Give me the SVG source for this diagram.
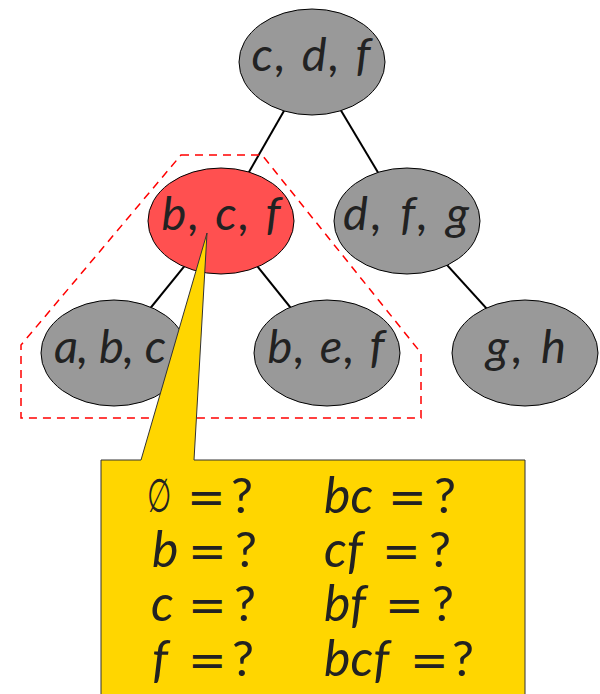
<svg xmlns="http://www.w3.org/2000/svg" width="600" height="694" viewBox="0 0 600 694">
<style>
.node{fill:#999999;stroke:#000;stroke-width:1}
.hl{fill:#ff5050}
.lbl{font-family:Lato,"Open Sans",sans-serif;font-style:italic;font-size:47px;fill:#222;text-anchor:middle}
.edge{stroke:#000;stroke-width:2;fill:none}
.row{font-family:Lato,"Open Sans",sans-serif;font-style:italic;font-size:50px;fill:#222}
.op{font-family:"DejaVu Sans",sans-serif;font-style:normal;font-size:46px}
.q{font-family:Lato,"Open Sans",sans-serif;font-style:normal;font-size:49px}
.es{font-family:"DejaVu Sans",sans-serif;font-style:normal;font-size:46px;fill:#222}
</style>
<rect width="600" height="694" fill="#fff"/>
<g id="connectors">
<line class="edge" x1="312" y1="62" x2="221" y2="221"/>
<line class="edge" x1="312" y1="62" x2="407" y2="221"/>
<line class="edge" x1="221" y1="221" x2="114" y2="353"/>
<line class="edge" x1="221" y1="221" x2="327" y2="353"/>
<line class="edge" x1="407" y1="221" x2="527" y2="353"/>
</g>
<g id="n-cdf"><ellipse class="node" cx="312" cy="62" rx="73" ry="53"/><text class="lbl" x="311" y="71" textLength="119" lengthAdjust="spacing">c, d, f</text></g>
<g id="n-bcf"><ellipse class="node hl" cx="221" cy="221" rx="73" ry="53"/><text class="lbl" x="221" y="230" textLength="119" lengthAdjust="spacing">b, c, f</text></g>
<g id="n-dfg"><ellipse class="node" cx="407" cy="221" rx="73" ry="53"/><text class="lbl" x="406" y="230" textLength="126" lengthAdjust="spacing">d, f, g</text></g>
<g id="n-abc"><ellipse class="node" cx="114" cy="353" rx="73" ry="53"/><text class="lbl" x="110" y="363" textLength="112" lengthAdjust="spacing">a, b, c</text></g>
<g id="n-bef"><ellipse class="node" cx="327" cy="353" rx="73" ry="53"/><text class="lbl" x="326" y="363" textLength="117" lengthAdjust="spacing">b, e, f</text></g>
<g id="n-gh"><ellipse class="node" cx="525" cy="353" rx="73" ry="53"/><text class="lbl" x="526" y="363" textLength="80" lengthAdjust="spacing">g, h</text></g>
<g id="subtree">
<polygon points="181,155 262,155 421,353 421,418 21,418 21,345" fill="none" stroke="#ff0000" stroke-width="1.5" stroke-dasharray="8,6"/>
</g>
<g id="callout">
<polygon points="101,460 141,460 207,233 194,460 525,460 525,700 101,700" fill="#ffd600" stroke="#333" stroke-width="1"/>
<text class="es" transform="translate(147,512) scale(0.6,1.02)">∅</text>
<text class="row"><tspan class="op" x="187" y="513">=</tspan><tspan class="q" x="231" y="513">?</tspan><tspan x="152" y="567">b</tspan><tspan class="op" x="188" y="567">=</tspan><tspan class="q" x="235" y="567">?</tspan><tspan x="151" y="621">c</tspan><tspan class="op" x="188" y="621">=</tspan><tspan class="q" x="234" y="621">?</tspan><tspan x="152" y="676">f</tspan><tspan class="op" x="188" y="676">=</tspan><tspan class="q" x="232" y="676">?</tspan></text>
<text class="row"><tspan x="324" y="513">bc</tspan><tspan class="op" x="388" y="513">=</tspan><tspan class="q" x="434" y="513">?</tspan><tspan x="324" y="567">cf</tspan><tspan class="op" x="382" y="567">=</tspan><tspan class="q" x="429" y="567">?</tspan><tspan x="324" y="621">bf</tspan><tspan class="op" x="385" y="621">=</tspan><tspan class="q" x="432" y="621">?</tspan><tspan x="324" y="676">bcf</tspan><tspan class="op" x="410" y="676">=</tspan><tspan class="q" x="452" y="676">?</tspan></text>
</g>
</svg>
